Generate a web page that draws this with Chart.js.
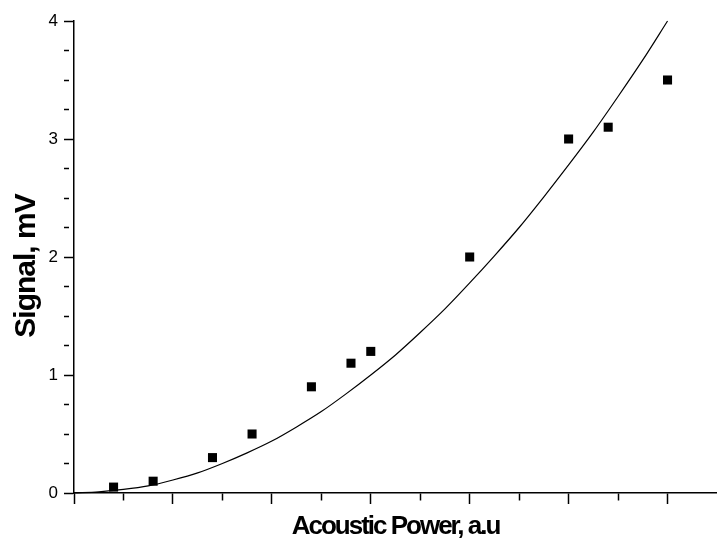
<!DOCTYPE html>
<html><head><meta charset="utf-8">
<script src="https://cdn.jsdelivr.net/npm/chart.js@4"></script>
<style>html,body{margin:0;padding:0;background:#fff}#wrap{width:717px;height:542px}</style>
</head><body><div id="wrap"><canvas id="c" width="717" height="542"></canvas></div>
<script>
// Measured points (Acoustic Power, a.u  vs  Signal, mV)
const measuredPower  = [0.4, 0.8, 1.4, 1.8, 2.4, 2.8, 3.0, 4.0, 5.0, 5.4, 6.0];
const measuredSignal = [0.05, 0.1, 0.3, 0.5, 0.9, 1.1, 1.2, 2.0, 3.0, 3.1, 3.5];
// Fit curve
const fitPower  = [0, 0.25, 0.5, 0.75, 1, 1.25, 1.5, 1.75, 2, 2.25, 2.5, 2.75, 3, 3.25, 3.5, 3.75, 4, 4.25, 4.5, 4.75, 5, 5.25, 5.5, 5.75, 6];
const fitSignal = [0, 0.01, 0.03, 0.06, 0.11, 0.17, 0.25, 0.34, 0.44, 0.56, 0.69, 0.84, 1.0, 1.17, 1.36, 1.56, 1.78, 2.01, 2.25, 2.51, 2.78, 3.06, 3.36, 3.67, 4.0];
const yTickLabels = ['0', '1', '2', '3', '4'];
const xTitle = 'Acoustic Power, a.u';
const yTitle = 'Signal, mV';

const titleSpacing = {
  id: 'titleSpacing',
  beforeDraw(chart) {
    for (const [id, sp, dy] of [['x', '-2px', 0], ['y', '-1px', 9]]) {
      const s = chart.scales[id];
      if (!s || s._wrappedTitle) continue;
      const orig = s.drawTitle.bind(s);
      s.drawTitle = function () {
        const ctx = this.ctx;
        ctx.save();
        ctx.letterSpacing = sp;
        ctx.translate(0, dy);
        orig();
        ctx.restore();
      };
      s._wrappedTitle = true;
    }
  }
};

const isInt = v => Math.abs(v - Math.round(v)) < 1e-6;

new Chart(document.getElementById('c'), {
  type: 'scatter',
  data: {
    datasets: [
      {
        data: fitPower.map((x, i) => ({x, y: fitSignal[i]})),
        showLine: true,
        borderColor: '#000',
        borderWidth: 1.2,
        pointRadius: 0,
        cubicInterpolationMode: 'monotone',
        order: 2
      },
      {
        data: measuredPower.map((x, i) => ({x, y: measuredSignal[i]})),
        pointStyle: 'rect',
        pointRadius: 6.4,
        backgroundColor: '#000',
        borderWidth: 0,
        order: 1
      }
    ]
  },
  options: {
    responsive: false,
    animation: false,
    clip: false,
    layout: {autoPadding: false, padding: {top: 21, right: 0, bottom: 0, left: 0}},
    plugins: {legend: {display: false}, tooltip: {enabled: false}},
    scales: {
      x: {
        type: 'linear',
        min: 0, max: 6.5,
        afterFit(s) { s.height = 49; s.paddingRight = 0; s.paddingLeft = 0; },
        border: {display: true, color: '#000', width: 1.5},
        grid: {
          drawOnChartArea: false, drawTicks: true, tickLength: 11,
          tickColor: c => (c.tick && c.tick.value > 6.4) ? 'rgba(0,0,0,0)' : '#000',
          tickWidth: 1.5,
          tickBorderDash: c => (c.tick && isInt(c.tick.value)) ? [] : [7, 30]
        },
        ticks: {stepSize: 0.5, display: false},
        title: {
          display: true, text: xTitle, color: '#000',
          font: {family: 'Liberation Sans, Arial, sans-serif', size: 26, weight: 'bold'},
          padding: {top: 0, bottom: 0}
        }
      },
      y: {
        type: 'linear',
        min: 0, max: 4,
        afterFit(s) { s.width = 74; },
        border: {display: true, color: '#000', width: 1.5},
        grid: {
          drawOnChartArea: false, drawTicks: true, tickLength: 10,
          tickColor: '#000', tickWidth: 1.5,
          tickBorderDash: c => (c.tick && isInt(c.tick.value)) ? [] : [5, 30]
        },
        ticks: {
          stepSize: 0.25, color: '#000', padding: 6,
          font: {family: 'Liberation Sans, Arial, sans-serif', size: 17},
          callback: v => isInt(v) ? yTickLabels[Math.round(v)] : ''
        },
        title: {
          display: true, text: yTitle, color: '#000',
          font: {family: 'Liberation Sans, Arial, sans-serif', size: 30, weight: 'bold'},
          padding: {top: 9, bottom: 0}
        }
      }
    }
  },
  plugins: [titleSpacing]
});
</script>
</body></html>
